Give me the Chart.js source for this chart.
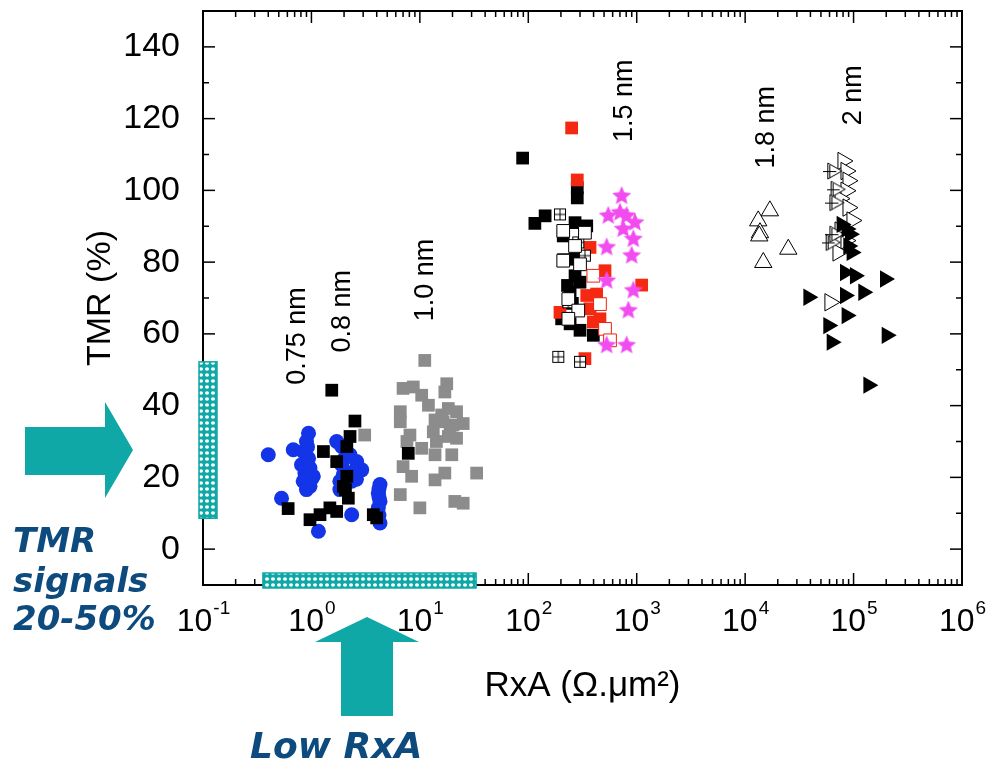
<!DOCTYPE html>
<html>
<head>
<meta charset="utf-8">
<script src="https://cdn.jsdelivr.net/npm/chart.js@4.4.0/dist/chart.umd.min.js"></script>
<style>
  body { margin: 0; background: #fff; }
</style>
</head>
<body>
<canvas id="chart" width="996" height="762"></canvas>
<script>
// RxA (ohm.um^2) vs TMR (%) for each barrier thickness
const dot075 = [[0.40,26.3],[0.68,27.7],[0.94,32.3],[0.90,30.0],[0.84,27.2],[0.94,25.3],[0.81,23.5],[0.97,22.6],
  [0.87,21.2],[1.04,20.3],[0.84,18.9],[0.97,17.5],[0.90,16.6],[0.53,14.2],[1.16,5.0],[1.71,30.0],[1.90,28.6],
  [2.27,26.3],[2.61,24.4],[2.91,22.1],[2.43,21.6],[1.97,20.7],[1.83,18.9],[2.35,18.9],[1.83,16.6],[2.35,9.6],
  [4.29,18.0],[4.14,15.6],[4.29,13.3],[4.14,11.5],[4.29,7.3],[0.92,28.5],[0.88,20.0],[1.00,19.5],[2.05,25.5],
  [2.60,19.5],[1.90,23.5],[4.20,16.8],[4.20,14.5],[4.20,9.5]];
const sq08 = [[2.52,35.7],[2.27,31.4],[2.12,28.6],[1.29,27.2],[1.71,24.4],[2.12,20.3],[1.97,17.5],[2.19,14.2],
  [0.61,11.3],[0.97,8.2],[1.20,9.6],[1.48,11.5],[1.71,10.5],[3.72,9.6],[4.00,8.7],[1.54,44.3],[7.82,26.7],[2.06,16.6]];
const sq10 = [[11.1,52.6],[7.0,44.8],[8.7,45.2],[17.7,46.1],[17.0,43.8],[10.4,42.9],[12.0,40.1],[6.6,38.3],
  [6.6,35.5],[18.3,39.2],[21.8,38.3],[13.8,36.0],[16.4,35.5],[25.1,35.0],[13.3,32.7],[19.0,32.7],[21.8,30.9],
  [8.1,31.8],[7.6,30.0],[10.4,28.1],[13.8,26.3],[19.7,26.3],[7.0,23.0],[8.4,20.3],[13.8,19.3],[17.0,21.2],
  [33.4,21.2],[6.6,15.2],[10.0,11.5],[21.0,13.3],[25.1,12.8],[3.1,31.8],[15.9,37.4],[20.2,34.6],[18.3,31.4],[14.2,30.0]];

const sq15Black = [[88.7,109.0],[283,100.7],[283,97.9],[143,92.9],[115,90.8],[270,91.0],[346,90.1],[210,87.3],
  [270,80.8],[270,76.2],[243,71.6],[300,74.4],[203,64.2],[243,62.8],[300,61.0],[398,59.6],[255,68.5],[230,73.5]];
const sq15Red = [[251,117.4],[283,102.9],[371,84.1],[510,77.6],[1111,73.6],[346,70.7],[427,71.1],[371,67.0],
  [458,64.2],[398,63.3],[333,53.1],[196,66.0]];
const sq15Open = [[210,88.7],[333,88.2],[270,84.5],[210,80.4],[300,79.4],[234,69.7],[289,66.5],[234,64.2]];
const sq15RedOpen = [[398,76.2],[458,68.3],[510,61.4],[567,58.2]];
const sq15Cross = [[196,93.3],[289,85.5],[333,81.8],[189,53.6],[300,52.2],[234,68.8],[210,80.8]];
const star15 = [[726,98.4],[547,92.9],[702,93.8],[807,92.9],[964,91.0],[751,89.2],[931,86.4],[528,84.1],
  [898,81.8],[528,74.8],[931,72.1],[837,66.5],[528,56.8],[807,56.8]];

const tri18 = [[16900,94.3],[13200,91.5],[13700,88.2],[13500,87.3],[25000,83.6],[14700,79.9]];
const tri20Open = [[79800,108.2],[85100,105.4],[88800,102.7],[85100,99.9],[75000,97.7],[88800,95.2],
  [96600,91.6],[75000,88.8],[85100,86.0],[71800,82.7],[60500,68.8]];
const tri20Cross = [[65000,105.4],[69700,100.3],[68000,96.6],[62800,85.5],[68000,87.8]];
const tri20Fill = [[77600,90.5],[86300,89.2],[92700,87.8],[89400,84.5],[96000,82.7],[83400,77.1],[103000,76.2],
  [195000,75.3],[38300,70.2],[83400,70.7],[123000,71.6],[58500,62.3],[86300,65.1],[202000,59.6],[62800,57.7],[137000,45.7]];

// barrier thickness labels
const nmText = ['0.75 nm', '0.8 nm', '1.0 nm', '1.5 nm', '1.8 nm', '2 nm'];
const nmX = [0.75, 1.95, 11.2, 780, 15600, 101000];
const nmY = [59.4, 66.3, 75, 125, 117.6, 126.5];

// highlighted ranges
const tmrBand = [8.6, 52.2];
const rxaBand = [0.357, 33];

const xTickValues = [0.1, 1, 10, 100, 1000, 1e4, 1e5, 1e6];
const xTickExp = ['-1', '0', '1', '2', '3', '4', '5', '6'];
const yTickValues = [0, 20, 40, 60, 80, 100, 120, 140];

const TEAL = '#0fa8a6';
const NAVY = '#0d4a7e';
const FONT = "'Liberation Sans', Arial, sans-serif";

Chart.defaults.font.family = FONT;
Chart.defaults.color = '#000';

function pts(arr) { return arr.map(p => ({x: p[0], y: p[1]})); }

function starImg(color, r) {
  const c = document.createElement('canvas');
  c.width = c.height = 2 * r + 2;
  const g = c.getContext('2d');
  g.fillStyle = color;
  g.beginPath();
  for (let i = 0; i < 10; i++) {
    const rr = i % 2 ? r * 0.45 : r;
    const a = -Math.PI / 2 + i * Math.PI / 5;
    g.lineTo(r + 1 + rr * Math.cos(a), r + 1 + rr * Math.sin(a));
  }
  g.closePath();
  g.fill();
  return c;
}

function crossSquareImg() {
  const c = document.createElement('canvas');
  c.width = c.height = 14;
  const g = c.getContext('2d');
  g.fillStyle = '#fff';
  g.fillRect(1, 1, 12, 12);
  g.strokeStyle = '#000';
  g.lineWidth = 1;
  g.strokeRect(1.5, 1.5, 11, 11);
  g.beginPath();
  g.moveTo(7, 1.5); g.lineTo(7, 12.5);
  g.moveTo(1.5, 7); g.lineTo(12.5, 7);
  g.stroke();
  return c;
}

function crossTriImg() {
  const c = document.createElement('canvas');
  c.width = c.height = 20;
  const g = c.getContext('2d');
  g.strokeStyle = '#000';
  g.lineWidth = 1;
  g.fillStyle = '#fff';
  g.beginPath();
  g.moveTo(18.5, 10); g.lineTo(4.5, 2); g.lineTo(4.5, 18); g.closePath();
  g.fill(); g.stroke();
  g.beginPath();
  g.moveTo(0, 10.5); g.lineTo(13, 10.5);
  g.moveTo(6.5, 4); g.lineTo(6.5, 17);
  g.stroke();
  return c;
}

function hatch() {
  const c = document.createElement('canvas');
  c.width = c.height = 6;
  const g = c.getContext('2d');
  g.fillStyle = TEAL;
  g.fillRect(0, 0, 6, 6);
  g.fillStyle = '#fff';
  g.beginPath();
  g.ellipse(3, 3, 2, 1.7, 0, 0, Math.PI * 2);
  g.fill();
  return c;
}

const annotate = {
  id: 'annotate',
  afterDraw(chart) {
    const {ctx, chartArea: a, scales: {x, y}} = chart;
    const line = (x1, y1, x2, y2) => { ctx.beginPath(); ctx.moveTo(x1, y1); ctx.lineTo(x2, y2); ctx.stroke(); };
    ctx.save();
    ctx.strokeStyle = '#000';

    // inward ticks on all four sides
    ctx.lineWidth = 1.5;
    for (let v = 0; v < 150; v += 10) {
      const py = y.getPixelForValue(v);
      const len = v % 20 === 0 ? 12 : 6;
      line(a.left, py, a.left + len, py);
      line(a.right, py, a.right - len, py);
    }
    for (let d = -1; d < 6; d++) {
      for (let m = 1; m <= 9; m++) {
        const px = x.getPixelForValue(m * Math.pow(10, d));
        const len = m === 1 ? 12 : 6;
        line(px, a.bottom, px, a.bottom - len);
        line(px, a.top, px, a.top + len);
      }
    }
    ctx.lineWidth = 2;
    ctx.strokeRect(a.left, a.top, a.right - a.left, a.bottom - a.top);

    // decade labels 10^n
    ctx.fillStyle = '#000';
    ctx.textBaseline = 'alphabetic';
    ctx.textAlign = 'left';
    xTickValues.forEach((v, i) => {
      ctx.font = '32px ' + FONT;
      const wb = ctx.measureText('10').width;
      ctx.font = '19px ' + FONT;
      const we = ctx.measureText(xTickExp[i]).width;
      const x0 = x.getPixelForValue(v) - (wb + we) / 2;
      ctx.font = '32px ' + FONT;
      ctx.fillText('10', x0, a.bottom + 46);
      ctx.font = '19px ' + FONT;
      ctx.fillText(xTickExp[i], x0 + wb + 1, a.bottom + 29);
    });

    // thickness labels
    ctx.font = '27px ' + FONT;
    ctx.textAlign = 'center';
    ctx.textBaseline = 'middle';
    nmText.forEach((t, i) => {
      ctx.save();
      ctx.translate(x.getPixelForValue(nmX[i]), y.getPixelForValue(nmY[i]));
      ctx.rotate(-Math.PI / 2);
      ctx.fillText(t, 0, 0);
      ctx.restore();
    });

    // hatched bars
    const pat = ctx.createPattern(hatch(), 'repeat');
    ctx.fillStyle = pat;
    ctx.strokeStyle = TEAL;
    ctx.lineWidth = 1.5;
    const vy1 = y.getPixelForValue(tmrBand[1]), vy2 = y.getPixelForValue(tmrBand[0]);
    ctx.fillRect(a.left - 4, vy1, 18, vy2 - vy1);
    ctx.strokeRect(a.left - 4, vy1, 18, vy2 - vy1);
    const hx1 = x.getPixelForValue(rxaBand[0]), hx2 = x.getPixelForValue(rxaBand[1]);
    ctx.fillRect(hx1, a.bottom - 12, hx2 - hx1, 15);
    ctx.strokeRect(hx1, a.bottom - 12, hx2 - hx1, 15);

    // arrows
    ctx.fillStyle = TEAL;
    ctx.beginPath();
    ctx.moveTo(25, 427); ctx.lineTo(105, 427); ctx.lineTo(105, 402); ctx.lineTo(133, 450);
    ctx.lineTo(105, 498); ctx.lineTo(105, 475); ctx.lineTo(25, 475); ctx.closePath();
    ctx.fill();
    ctx.beginPath();
    ctx.moveTo(367, 617); ctx.lineTo(419, 642); ctx.lineTo(393, 642); ctx.lineTo(393, 716);
    ctx.lineTo(341, 716); ctx.lineTo(341, 642); ctx.lineTo(315, 642); ctx.closePath();
    ctx.fill();

    // callout text
    ctx.fillStyle = NAVY;
    ctx.textAlign = 'left';
    ctx.textBaseline = 'alphabetic';
    ctx.font = "italic bold 34px 'DejaVu Sans', Verdana, sans-serif";
    ctx.fillText('TMR', 13, 552);
    ctx.fillText('signals', 13, 592);
    ctx.fillText('20-50%', 13, 630);
    ctx.font = "italic bold 36px 'DejaVu Sans', Verdana, sans-serif";
    ctx.fillText('Low RxA', 250, 758);
    ctx.restore();
  }
};

const open = {backgroundColor: '#fff', borderColor: '#000', borderWidth: 1};

new Chart(document.getElementById('chart'), {
  type: 'scatter',
  data: {
    datasets: [
      {label: '1.5 nm star', data: pts(star15), pointStyle: starImg('#f24cf0', 10)},
      {label: '1.5 nm red open', data: pts(sq15RedOpen), pointStyle: 'rect', pointRadius: 9, backgroundColor: '#fff', borderColor: '#f02010', borderWidth: 1},
      {label: '1.5 nm open', data: pts(sq15Open), pointStyle: 'rect', pointRadius: 9, ...open},
      {label: '1.5 nm cross', data: pts(sq15Cross), pointStyle: crossSquareImg()},
      {label: '1.5 nm red', data: pts(sq15Red), pointStyle: 'rect', pointRadius: 9, backgroundColor: '#f52812', borderWidth: 0},
      {label: '1.5 nm black', data: pts(sq15Black), pointStyle: 'rect', pointRadius: 9, backgroundColor: '#000', borderWidth: 0},
      {label: '0.8 nm', data: pts(sq08), pointStyle: 'rect', pointRadius: 9, backgroundColor: '#000', borderWidth: 0},
      {label: '0.75 nm', data: pts(dot075), pointStyle: 'circle', pointRadius: 7.5, backgroundColor: '#1434e8', borderWidth: 0},
      {label: '1.0 nm', data: pts(sq10), pointStyle: 'rect', pointRadius: 9, backgroundColor: '#8c8c8c', borderWidth: 0},
      {label: '1.8 nm', data: pts(tri18), pointStyle: 'triangle', pointRadius: 10, ...open},
      {label: '2 nm fill', data: pts(tri20Fill), pointStyle: 'triangle', rotation: 90, pointRadius: 10, backgroundColor: '#000', borderWidth: 0},
      {label: '2 nm cross', data: pts(tri20Cross), pointStyle: crossTriImg()},
      {label: '2 nm open', data: pts(tri20Open), pointStyle: 'triangle', rotation: 90, pointRadius: 10, ...open}
    ]
  },
  options: {
    responsive: false,
    animation: false,
    events: [],
    layout: {padding: {top: 8, right: 34, left: 0, bottom: 0}},
    plugins: {legend: {display: false}, tooltip: {enabled: false}},
    scales: {
      x: {
        type: 'logarithmic',
        min: 0.1, max: 1e6,
        grid: {display: false},
        border: {display: false},
        afterBuildTicks: s => { s.ticks = xTickValues.map(v => ({value: v})); },
        afterFit: s => { s.height = 177; s.paddingLeft = 0; s.paddingRight = 0; },
        ticks: {display: false},
        title: {display: true, text: 'RxA (Ω.μm²)', font: {size: 35}, padding: {bottom: 55}}
      },
      y: {
        min: -10, max: 150,
        grid: {display: false},
        border: {display: false},
        afterBuildTicks: s => { s.ticks = yTickValues.map(v => ({value: v})); },
        afterFit: s => { s.width = 203; s.paddingTop = 0; s.paddingBottom = 0; },
        ticks: {padding: 15, font: {size: 34}},
        title: {display: true, text: 'TMR (%)', font: {size: 34}, padding: {top: 80}}
      }
    }
  },
  plugins: [annotate]
});
</script>
</body>
</html>
